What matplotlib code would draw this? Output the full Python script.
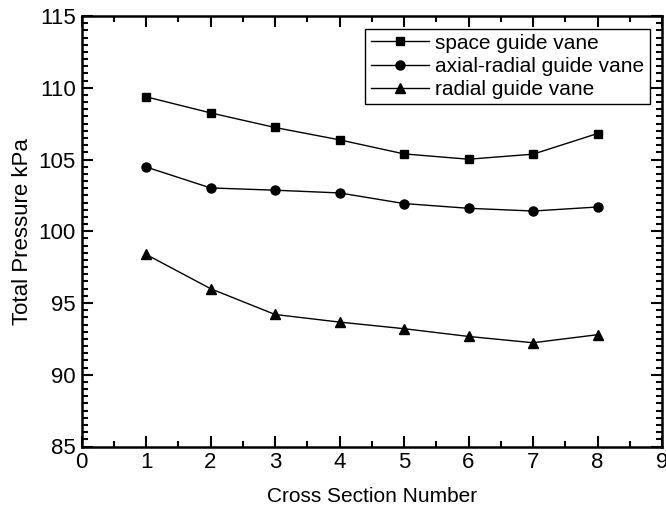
import matplotlib.pyplot as plt
from matplotlib.ticker import MultipleLocator

plt.rcParams['font.family'] = ['Liberation Sans', 'DejaVu Sans']

sections = [1, 2, 3, 4, 5, 6, 7, 8]
space_vane = [109.37, 108.25, 107.23, 106.37, 105.39, 105.02, 105.37, 106.81]
axial_radial_vane = [104.48, 103.02, 102.86, 102.67, 101.93, 101.60, 101.41, 101.69]
radial_vane = [98.39, 96.0, 94.2, 93.67, 93.21, 92.67, 92.23, 92.79]

fig = plt.figure(figsize=(6.66, 5.08), dpi=100)
ax = fig.add_axes([81.5 / 666, 1 - 446.5 / 508, (662 - 81.5) / 666, (446.5 - 16) / 508])

ax.plot(sections, space_vane, color='black', lw=1, marker='s', ms=5.5, label='space guide vane')
ax.plot(sections, axial_radial_vane, color='black', lw=1, marker='o', ms=6.5, label='axial-radial guide vane')
ax.plot(sections, radial_vane, color='black', lw=1, marker='^', ms=7, label='radial guide vane')

ax.set_xlim(0, 9)
ax.set_ylim(85, 115)
ax.xaxis.set_major_locator(MultipleLocator(1))
ax.xaxis.set_minor_locator(MultipleLocator(0.5))
ax.yaxis.set_major_locator(MultipleLocator(5))
ax.yaxis.set_minor_locator(MultipleLocator(0.5))
ax.tick_params(which='both', direction='in', top=True, right=True, width=1.5, labelsize=16)
ax.tick_params(which='major', length=8, pad=4)
ax.tick_params(which='minor', length=4)
for s in ax.spines.values():
    s.set_linewidth(1.8)

ax.set_xlabel('Cross Section Number', fontsize=15, labelpad=10)
ax.set_ylabel('Total Pressure kPa', fontsize=16, labelpad=4)

leg = ax.legend(loc='upper right', fontsize=15, fancybox=False, edgecolor='black',
                framealpha=1, handlelength=2.8, handletextpad=0.3, labelspacing=0.2,
                borderpad=0.25, borderaxespad=0.6)
leg.get_frame().set_linewidth(1)

fig.savefig('out.png', dpi=100)
